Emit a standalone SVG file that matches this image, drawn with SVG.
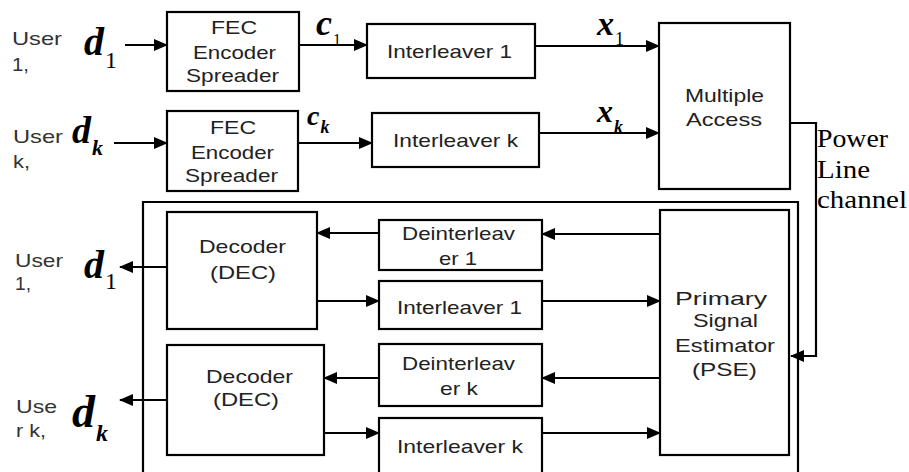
<svg xmlns="http://www.w3.org/2000/svg" width="909" height="472" viewBox="0 0 909 472">
<defs>
<marker id="ah" markerWidth="14" markerHeight="12" refX="13" refY="6" orient="auto" markerUnits="userSpaceOnUse">
<path d="M0,0 L14,6 L0,12 Z" fill="#000"/>
</marker>
<style>
.box{fill:#fff;stroke:#000;stroke-width:2.2}
.t{font-family:"Liberation Sans",Arial,sans-serif;font-size:19px;fill:#222}
.lbl{font-family:"Liberation Sans",Arial,sans-serif;font-size:19px;fill:#333}
.m{font-family:"Liberation Serif","Times New Roman",serif;font-weight:bold;font-style:italic;fill:#000}
.s{font-weight:normal;font-style:normal}
.pl{font-family:"Liberation Serif","Times New Roman",serif;font-size:25px;fill:#000}
.c{fill:none;stroke:#000;stroke-width:2.2}
.a{fill:none;stroke:#000;stroke-width:2.2;marker-end:url(#ah)}
</style>
</defs>
<rect width="909" height="472" fill="#fff"/>

<!-- left labels -->
<g id="user1-in">
<text class="lbl" x="12" y="45" textLength="50" lengthAdjust="spacingAndGlyphs">User</text>
<text class="lbl" x="12" y="71" textLength="17" lengthAdjust="spacingAndGlyphs">1,</text>
<text class="m" x="84" y="55" font-size="40">d<tspan class="s" dx="1" dy="13" font-size="24">1</tspan></text>
</g>
<g id="userk-in">
<text class="lbl" x="13" y="143" textLength="50" lengthAdjust="spacingAndGlyphs">User</text>
<text class="lbl" x="13" y="168" textLength="17" lengthAdjust="spacingAndGlyphs">k,</text>
<text class="m" x="72" y="143" font-size="38">d<tspan dx="1" dy="12" font-size="22">k</tspan></text>
</g>
<g id="user1-out">
<text class="lbl" x="15" y="267" textLength="48" lengthAdjust="spacingAndGlyphs">User</text>
<text class="lbl" x="15" y="290" textLength="16" lengthAdjust="spacingAndGlyphs">1,</text>
<text class="m" x="84" y="278" font-size="40">d<tspan class="s" dx="1" dy="11" font-size="24">1</tspan></text>
</g>
<g id="userk-out">
<text class="lbl" x="16" y="413" textLength="41" lengthAdjust="spacingAndGlyphs">Use</text>
<text class="lbl" x="16" y="437" textLength="30" lengthAdjust="spacingAndGlyphs">r k,</text>
<text class="m" x="72" y="427" font-size="46">d<tspan dx="1" dy="14" font-size="24">k</tspan></text>
</g>

<!-- signal labels -->
<g id="c1"><text class="m" x="316" y="35" font-size="36">c<tspan class="s" dx="1" dy="10" font-size="16">1</tspan></text></g>
<g id="ck"><text class="m" x="307" y="125" font-size="28">c<tspan dx="1" dy="8" font-size="18">k</tspan></text></g>
<g id="x1"><text class="m" x="597" y="35" font-size="34">x<tspan class="s" dx="1" dy="10" font-size="18">1</tspan></text></g>
<g id="xk"><text class="m" x="597" y="122" font-size="32">x<tspan dx="1" dy="11" font-size="18">k</tspan></text></g>

<!-- transmitter -->
<g id="fec1">
<rect class="box" x="167" y="12" width="132" height="79"/>
<text class="t" x="211" y="34" textLength="46" lengthAdjust="spacingAndGlyphs">FEC</text>
<text class="t" x="193" y="59" textLength="83" lengthAdjust="spacingAndGlyphs">Encoder</text>
<text class="t" x="186" y="82" textLength="93" lengthAdjust="spacingAndGlyphs">Spreader</text>
</g>
<g id="feck">
<rect class="box" x="167" y="111" width="131" height="80"/>
<text class="t" x="210" y="134" textLength="46" lengthAdjust="spacingAndGlyphs">FEC</text>
<text class="t" x="191" y="159" textLength="83" lengthAdjust="spacingAndGlyphs">Encoder</text>
<text class="t" x="185" y="182" textLength="93" lengthAdjust="spacingAndGlyphs">Spreader</text>
</g>
<g id="int1">
<rect class="box" x="367" y="24" width="168" height="54"/>
<text class="t" x="387" y="58" textLength="125" lengthAdjust="spacingAndGlyphs">Interleaver 1</text>
</g>
<g id="intk">
<rect class="box" x="372" y="113" width="167" height="54"/>
<text class="t" x="393" y="147" textLength="125" lengthAdjust="spacingAndGlyphs">Interleaver k</text>
</g>
<g id="ma">
<rect class="box" x="659" y="23" width="131" height="166"/>
<text class="t" x="685" y="102" textLength="79" lengthAdjust="spacingAndGlyphs">Multiple</text>
<text class="t" x="686" y="126" textLength="76" lengthAdjust="spacingAndGlyphs">Access</text>
</g>
<g id="plc">
<text class="pl" x="817" y="147" textLength="71" lengthAdjust="spacingAndGlyphs">Power</text>
<text class="pl" x="817" y="178" textLength="53" lengthAdjust="spacingAndGlyphs">Line</text>
<text class="pl" x="817" y="208" textLength="90" lengthAdjust="spacingAndGlyphs">channel</text>
</g>

<!-- receiver -->
<g id="receiver">
<path class="c" d="M143,472 V202 H798 V472"/>
</g>
<g id="dec1">
<rect class="box" x="167" y="212" width="150" height="117"/>
<text class="t" x="199" y="253" textLength="87" lengthAdjust="spacingAndGlyphs">Decoder</text>
<text class="t" x="210" y="279" textLength="66" lengthAdjust="spacingAndGlyphs">(DEC)</text>
</g>
<g id="deck">
<rect class="box" x="167" y="345" width="157" height="110"/>
<text class="t" x="206" y="383" textLength="87" lengthAdjust="spacingAndGlyphs">Decoder</text>
<text class="t" x="213" y="406" textLength="66" lengthAdjust="spacingAndGlyphs">(DEC)</text>
</g>
<g id="deint1">
<rect class="box" x="379" y="220" width="163" height="50"/>
<text class="t" x="402" y="240" textLength="113" lengthAdjust="spacingAndGlyphs">Deinterleav</text>
<text class="t" x="439" y="265" textLength="38" lengthAdjust="spacingAndGlyphs">er 1</text>
</g>
<g id="int1b">
<rect class="box" x="379" y="281" width="163" height="48"/>
<text class="t" x="397" y="314" textLength="125" lengthAdjust="spacingAndGlyphs">Interleaver 1</text>
</g>
<g id="deintk">
<rect class="box" x="379" y="344" width="163" height="62"/>
<text class="t" x="402" y="370" textLength="113" lengthAdjust="spacingAndGlyphs">Deinterleav</text>
<text class="t" x="440" y="395" textLength="38" lengthAdjust="spacingAndGlyphs">er k</text>
</g>
<g id="intkb">
<rect class="box" x="379" y="418" width="163" height="70"/>
<text class="t" x="397" y="453" textLength="126" lengthAdjust="spacingAndGlyphs">Interleaver k</text>
</g>
<g id="pse">
<rect class="box" x="660" y="210" width="129" height="245"/>
<text class="t" x="675" y="305" textLength="92" lengthAdjust="spacingAndGlyphs">Primary</text>
<text class="t" x="693" y="327" textLength="65" lengthAdjust="spacingAndGlyphs">Signal</text>
<text class="t" x="675" y="352" textLength="100" lengthAdjust="spacingAndGlyphs">Estimator</text>
<text class="t" x="692" y="376" textLength="65" lengthAdjust="spacingAndGlyphs">(PSE)</text>
</g>

<g id="connectors">
<line class="a" x1="125" y1="45" x2="167" y2="45"/>
<line class="a" x1="114" y1="143" x2="167" y2="143"/>
<line class="a" x1="299" y1="45" x2="367" y2="45"/>
<line class="a" x1="298" y1="143" x2="372" y2="143"/>
<line class="a" x1="535" y1="46" x2="659" y2="46"/>
<line class="a" x1="539" y1="133" x2="659" y2="133"/>
<polyline class="a" points="790,123 816,123 816,356 791,356"/>
<line class="a" x1="167" y1="267" x2="120" y2="267"/>
<line class="a" x1="379" y1="233" x2="317" y2="233"/>
<line class="a" x1="660" y1="234" x2="542" y2="234"/>
<line class="a" x1="317" y1="301" x2="379" y2="301"/>
<line class="a" x1="542" y1="301" x2="660" y2="301"/>
<line class="a" x1="167" y1="400" x2="120" y2="400"/>
<line class="a" x1="379" y1="378" x2="324" y2="378"/>
<line class="a" x1="660" y1="378" x2="542" y2="378"/>
<line class="a" x1="324" y1="433" x2="379" y2="433"/>
<line class="a" x1="542" y1="433" x2="660" y2="433"/>
</g>
</svg>
